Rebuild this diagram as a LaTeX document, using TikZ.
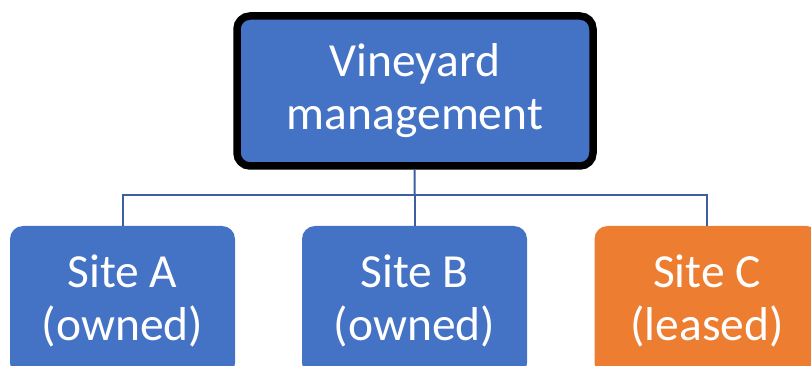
\documentclass[tikz,border=0pt]{standalone}
\usepackage{fontspec}
\setmainfont{Carlito}
\usetikzlibrary{positioning}
\definecolor{siteblue}{HTML}{4472C4}
\definecolor{siteorange}{HTML}{ED7D31}
\definecolor{linkblue}{HTML}{3B5FA0}

\begin{document}
\begin{tikzpicture}[x=1pt, y=-1pt,
    sitebox/.style={rectangle, rounded corners=13pt, fill=siteblue, text=white,
        minimum width=225pt, minimum height=150pt, align=center,
        font=\fontsize{47.5}{53}\selectfont},
    link/.style={draw=linkblue, line width=2pt}]
    \useasboundingbox (0,0) rectangle (811,366);

    \node [sitebox, draw=black, line width=7.5pt, minimum width=356pt] (mgmt) at (415, 91) {Vineyard\\management};
    \node [sitebox] (siteA) at (122.5, 301) {Site A\\(owned)};
    \node [sitebox] (siteB) at (414.5, 301) {Site B\\(owned)};
    \node [sitebox, fill=siteorange] (siteC) at (707, 301) {Site C\\(leased)};
    \coordinate (bus) at (414.5, 195);

    \draw [link] (mgmt) -- (bus);
    \draw [link] (bus) -| (siteA);
    \draw [link] (bus) -- (siteB);
    \draw [link] (bus) -| (siteC);
\end{tikzpicture}
\end{document}
